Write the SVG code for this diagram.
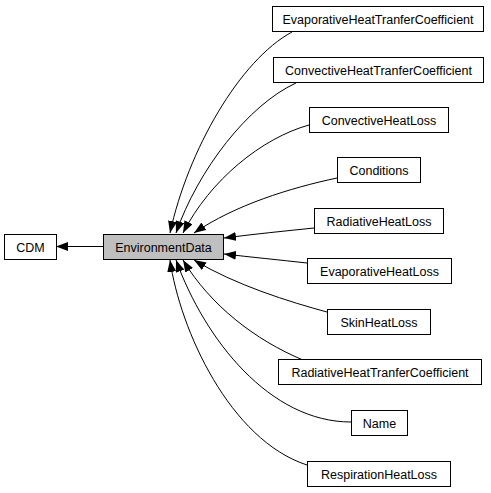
<svg xmlns="http://www.w3.org/2000/svg" width="491" height="493" viewBox="0 0 491 493">
<style>
.box rect{fill:#fff;stroke:#000;stroke-width:1}
#n_env rect{fill:#bfbfbf}
text{font-family:"Liberation Sans",Arial,sans-serif;font-size:12.5px;fill:#000;text-anchor:middle}
.edges path{fill:none;stroke:#000;stroke-width:1;marker-end:url(#arr)}
</style>
<defs>
<marker id="arr" markerUnits="userSpaceOnUse" viewBox="0 0 12 9" refX="12" refY="4.5" markerWidth="12" markerHeight="9" orient="auto">
<path d="M0,0 L12,4.5 L0,9 z" fill="#000"/>
</marker>
</defs>
<rect width="491" height="493" fill="#fff"/>
<g class="edges">
<path d="M103,246.5 L56,246.5"/>
<path d="M292,32 C240,60 188,150 170,233"/>
<path d="M296,83 C248,105 198,170 176,233"/>
<path d="M309,125 C262,138 210,180 183,233"/>
<path d="M337,178 C290,188 235,205 194,233"/>
<path d="M314,228 C285,231 255,234 224,238"/>
<path d="M307,263 C280,260 250,257 224,254"/>
<path d="M327,312 C290,302 235,285 194,260"/>
<path d="M303,360 C255,340 210,305 183,260"/>
<path d="M351,422 C270,422 205,340 176,260"/>
<path d="M307,465 C230,440 180,330 170,260"/>
</g>
<g id="n_cdm" class="box"><rect x="4.5" y="234.5" width="52" height="25"/><text x="30.5" y="251.5">CDM</text></g>
<g id="n_env" class="box"><rect x="103.5" y="234.5" width="120" height="25"/><text x="163.5" y="251.5">EnvironmentData</text></g>
<g id="n0" class="box"><rect x="272.5" y="6.5" width="211" height="25"/><text x="378" y="23.5">EvaporativeHeatTranferCoefficient</text></g>
<g id="n1" class="box"><rect x="273.5" y="57.5" width="210" height="25"/><text x="378.5" y="74.5">ConvectiveHeatTranferCoefficient</text></g>
<g id="n2" class="box"><rect x="309.5" y="107.5" width="139" height="25"/><text x="379" y="124.5">ConvectiveHeatLoss</text></g>
<g id="n3" class="box"><rect x="337.5" y="157.5" width="83" height="25"/><text x="379" y="174.5">Conditions</text></g>
<g id="n4" class="box"><rect x="314.5" y="208.5" width="129" height="25"/><text x="379" y="225.5">RadiativeHeatLoss</text></g>
<g id="n5" class="box"><rect x="307.5" y="258.5" width="144" height="25"/><text x="379.5" y="275.5">EvaporativeHeatLoss</text></g>
<g id="n6" class="box"><rect x="327.5" y="309.5" width="103" height="25"/><text x="379" y="326.5">SkinHeatLoss</text></g>
<g id="n7" class="box"><rect x="278.5" y="359.5" width="203" height="25"/><text x="380" y="376.5">RadiativeHeatTranferCoefficient</text></g>
<g id="n8" class="box"><rect x="351.5" y="410.5" width="56" height="25"/><text x="379.5" y="427.5">Name</text></g>
<g id="n9" class="box"><rect x="307.5" y="461.5" width="143" height="25"/><text x="379" y="478.5">RespirationHeatLoss</text></g>
</svg>
